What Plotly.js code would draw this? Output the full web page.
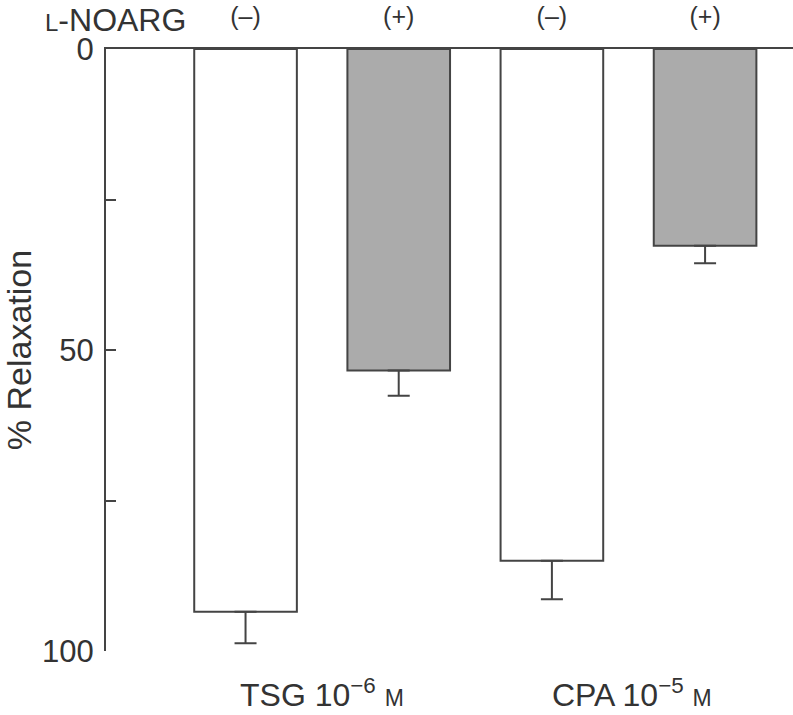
<!DOCTYPE html>
<html>
<head>
<meta charset="utf-8">
<script src="https://cdn.plot.ly/plotly-3.0.1.min.js"></script>
<style>
  html, body { margin: 0; padding: 0; background: #fff; }
  #plot { width: 793px; height: 715px; }
</style>
</head>
<body>
<div id="plot"></div>
<script>
// --- data ---
const barKeys = ['TSG-', 'TSG+', 'CPA-', 'CPA+'];
const noargSigns = ['(–)', '(+)', '(–)', '(+)'];
const groupLabels = ['TSG 10<sup>−6</sup> <span style="font-size:23px">M</span>',
                     'CPA 10<sup>−5</sup> <span style="font-size:23px">M</span>'];

// % relaxation, mean and s.e.mean
const withoutKeys = ['TSG-', 'CPA-'];
const withoutMean = [93.5, 85.0];
const withoutErr = [5.2, 6.4];

const withKeys = ['TSG+', 'CPA+'];
const withMean = [53.4, 32.7];
const withErr = [4.2, 2.9];

const yTicks = [0, 25, 50, 75, 100];
const yTickText = ['0', '', '50', '', '100'];

const ink = '#333';
const font = 'Liberation Sans Narrow, Liberation Sans, Arial, sans-serif';

function barTrace(keys, mean, err, fill) {
    return {
        type: 'bar',
        x: keys,
        y: mean,
        width: 0.67,
        marker: { color: fill, line: { color: '#444', width: 2 } },
        error_y: {
            type: 'data', symmetric: false,
            array: err, arrayminus: err.map(() => 0),
            color: '#444', thickness: 2, width: 11
        },
        hoverinfo: 'skip',
        showlegend: false
    };
}

const traces = [
    barTrace(withoutKeys, withoutMean, withoutErr, '#ffffff'),
    barTrace(withKeys, withMean, withErr, '#ababab')
];

const layout = {
    width: 793, height: 715,
    margin: { l: 106, r: 0, t: 49, b: 64 },
    paper_bgcolor: '#fff', plot_bgcolor: '#fff',
    barmode: 'overlay',
    font: { family: font, color: ink },
    xaxis: {
        type: 'category',
        categoryorder: 'array', categoryarray: barKeys,
        range: [-0.911, 3.574],
        side: 'top',
        showline: true, linecolor: '#444', linewidth: 2,
        showgrid: false, zeroline: false,
        ticks: '',
        tickvals: barKeys, ticktext: noargSigns,
        tickfont: { size: 25, color: ink },
        ticklabelstandoff: 12
    },
    yaxis: {
        range: [100, 0],
        showline: true, linecolor: '#444', linewidth: 2,
        showgrid: false, zeroline: false,
        ticks: 'inside', ticklen: 10, tickwidth: 2, tickcolor: '#444',
        tickvals: yTicks, ticktext: yTickText,
        tickfont: { size: 31, color: ink },
        ticklabelstandoff: 4,
        title: { text: '% Relaxation', font: { size: 34, color: ink }, standoff: 14 }
    },
    annotations: [
        {
            text: '<span style="font-size:24px">L</span>-NOARG',
            xref: 'paper', yref: 'paper', x: -0.092, y: 1.049,
            xanchor: 'left', yanchor: 'middle', showarrow: false,
            font: { size: 32, color: ink }
        },
        {
            text: groupLabels[0], xref: 'x', yref: 'paper', x: 0.5, y: -0.07,
            xanchor: 'center', yanchor: 'middle', showarrow: false,
            font: { size: 32, color: ink }
        },
        {
            text: groupLabels[1], xref: 'x', yref: 'paper', x: 2.52, y: -0.07,
            xanchor: 'center', yanchor: 'middle', showarrow: false,
            font: { size: 32, color: ink }
        }
    ]
};

Plotly.newPlot('plot', traces, layout, { staticPlot: true });
</script>
</body>
</html>
